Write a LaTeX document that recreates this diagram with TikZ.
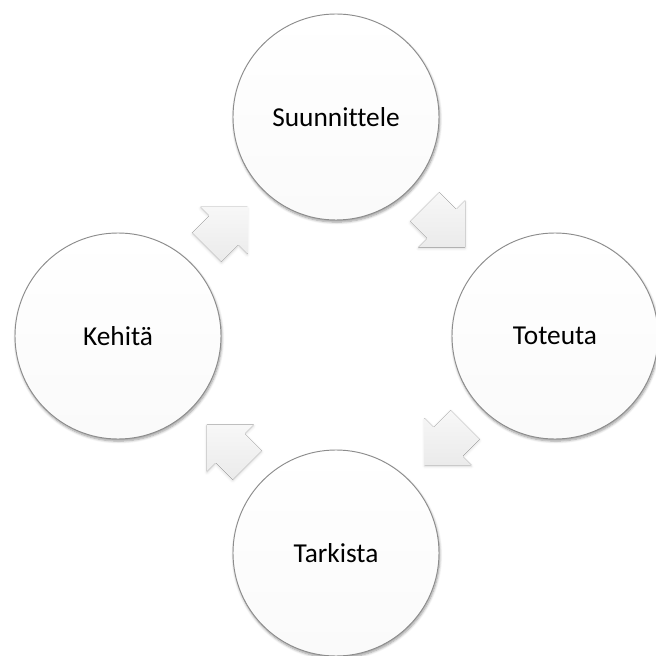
\documentclass[tikz,border=0pt]{standalone}
\usepackage{fontspec}
\setmainfont[Ligatures={NoCommon}]{Carlito}
\usetikzlibrary{shadows.blur}

\tikzset{
	phase/.style={circle, draw=gray!90, line width=0.7pt, minimum size=154.5pt, inner sep=0pt,
		top color=white, bottom color=gray!4,
		blur shadow={shadow xshift=0.6pt, shadow yshift=-1.6pt, shadow blur steps=6, shadow opacity=40},
		font=\fontsize{20.5}{24}\selectfont},
	arrowfill/.style={top color=gray!6, bottom color=gray!16,
		blur shadow={shadow xshift=0pt, shadow yshift=-1pt, shadow blur steps=4, shadow opacity=16}}
}

\begin{document}
\begin{tikzpicture}[x=0.75pt,y=0.75pt]
\useasboundingbox (-336,-320) rectangle (320,336);

% block arrows between the phases, clockwise
\foreach \a in {135, 45, -45, -135}
{
	\begin{scope}[shift={(\a:154)}, rotate=\a-90]
		\fill[arrowfill] (-28.5,-20.5) -- (-4.5,-20.5) -- (-4.5,-33) -- (28.5,0)
			-- (-4.5,33) -- (-4.5,20.5) -- (-28.5,20.5) -- cycle;
	\end{scope}
}

\node[phase] (suun) at (0,219) {Suunnittele};
\node[phase] (tot) at (219,0) {Toteuta};
\node[phase] (tark) at (0,-217) {Tarkista};
\node[phase] (keh) at (-218,0) {Kehitä};

\end{tikzpicture}
\end{document}
